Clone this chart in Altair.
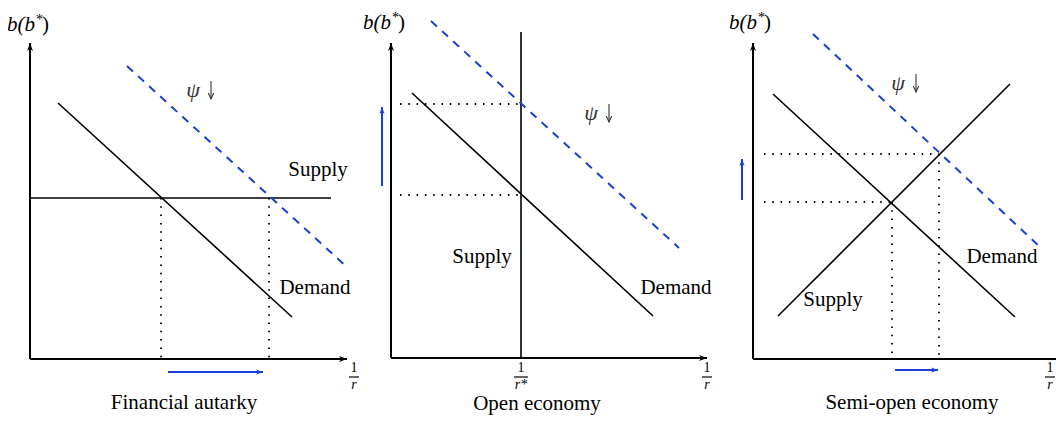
import math
import altair as alt
import pandas as pd

BLUE = "#1a3fd4"
SERIF = "Liberation Serif"

# ---- diagram geometry (diagram units, origin top-left) ----
axis_segments = [
    [30, 359, 30, 43], [30, 359, 347, 359],
    [391, 358, 391, 43], [391, 358, 707, 358],
    [753, 359, 753, 43], [753, 359, 1066, 359],
]
solid_segments = [
    [58, 103, 292, 317], [30, 198, 331, 198],
    [412, 93, 653, 316], [521, 32, 521, 358],
    [773, 94, 1015, 317], [778, 316, 1010, 84],
]
dashed_segments = [
    [127, 66, 348, 268],
    [431, 21, 679, 248],
    [813, 34, 1041, 248],
]
dotted_segments = [
    [161, 198, 161, 359], [269, 198, 269, 359],
    [400, 104, 521, 104], [400, 195, 521, 195],
    [764, 202, 892, 202], [764, 154, 939, 154],
    [892, 202, 892, 359], [939, 154, 939, 359],
]
shift_arrows = [
    [168, 372, 263, 372],
    [382, 186, 382, 107],
    [742, 200, 742, 159],
    [895, 370, 938, 370],
]

label_text = ["Supply", "Demand", "Financial autarky",
              "Supply", "Demand", "Open economy",
              "Supply", "Demand", "Semi-open economy"]
label_x = [318, 315, 184, 482, 676, 537, 833, 1002, 912]
label_y = [170, 288, 403, 257, 288, 404, 300, 257, 403]

yaxis_text = ["b(b", "b(b", "b(b"]
yaxis_x = [26, 382, 748]
yaxis_y = [25, 23, 23]

psi_x = [201, 599, 906]
psi_y = [90, 113, 83]

frac_num = ["1", "1", "1", "1"]
frac_den = ["r", "r*", "r", "r"]
frac_x = [354, 521, 707, 1050]
frac_half = [5, 7, 5, 5]


def seg_df(segs):
    return pd.DataFrame(segs, columns=["x", "y", "x2", "y2"])


X = alt.Scale(domain=[8, 1056], nice=False, zero=False)
Y = alt.Scale(domain=[8, 416], nice=False, zero=False, reverse=True)


def rules(df, **mark):
    return alt.Chart(df).mark_rule(**mark).encode(
        x=alt.X("x:Q", scale=X, axis=None),
        y=alt.Y("y:Q", scale=Y, axis=None),
        x2="x2:Q", y2="y2:Q",
    )


def heads(segs, length):
    rows = []
    for x1, y1, x2, y2 in segs:
        dx, dy = x2 - x1, y2 - y1
        n = math.hypot(dx, dy)
        ux, uy = dx / n, dy / n
        rows.append({"x": x2 - ux * length / 2, "y": y2 - uy * length / 2,
                     "angle": math.degrees(math.atan2(dx, -dy)) % 360})
    return pd.DataFrame(rows)


ARROW = "M0,-1 L0.75,1 L0,0.45 L-0.75,1 Z"
CHEVRON = "M-0.9,1 L0,-1 L0.9,1"


def head_layer(segs, length, color, shape=ARROW, filled=True, **mark):
    return alt.Chart(heads(segs, length)).mark_point(
        shape=shape, filled=filled, color=color, opacity=1,
        size=length * length, **mark
    ).encode(
        x=alt.X("x:Q", scale=X, axis=None),
        y=alt.Y("y:Q", scale=Y, axis=None),
        angle=alt.Angle("angle:Q", scale=None),
    )


def text_layer(texts, xs, ys, **mark):
    df = pd.DataFrame({"t": texts, "x": xs, "y": ys})
    opts = dict(font=SERIF, align="center", baseline="middle")
    opts.update(mark)
    return alt.Chart(df).mark_text(**opts).encode(
        x=alt.X("x:Q", scale=X, axis=None),
        y=alt.Y("y:Q", scale=Y, axis=None),
        text="t:N",
    )


bars = [[x - h, 377, x + h, 377] for x, h in zip(frac_x, frac_half)]
# the "down" arrow next to psi
down_arrows = [[x + 10, y - 9, x + 10, y + 9] for x, y in zip(psi_x, psi_y)]

layers = [
    rules(seg_df(dotted_segments), color="black", strokeWidth=1.8,
          strokeDash=[1.5, 6.8]),
    rules(seg_df(solid_segments), color="black", strokeWidth=1.6),
    rules(seg_df(dashed_segments), color=BLUE, strokeWidth=2,
          strokeDash=[8, 7]),
    rules(seg_df(axis_segments), color="black", strokeWidth=2),
    head_layer(axis_segments, 8, "black"),
    rules(seg_df(shift_arrows), color=BLUE, strokeWidth=2),
    head_layer(shift_arrows, 7, BLUE),
    rules(seg_df(bars), color="black", strokeWidth=1.2),
    rules(seg_df(down_arrows), color="#333333", strokeWidth=1.1),
    head_layer(down_arrows, 6, "#333333", shape=CHEVRON, filled=False,
               strokeWidth=1.1),
    text_layer(label_text, label_x, label_y, fontSize=21, color="black"),
    # y-axis label b(b*) built from pieces: italic b(b, superscript *, )
    text_layer(yaxis_text, yaxis_x, yaxis_y, fontSize=21, fontStyle="italic",
               color="black", align="right", dx=9),
    text_layer(["*"] * 3, yaxis_x, yaxis_y, fontSize=14, color="black",
               align="left", dx=10, dy=-5),
    text_layer([")"] * 3, yaxis_x, yaxis_y, fontSize=21, color="black",
               align="left", dx=16),
    text_layer(["ψ"] * 3, psi_x, psi_y, fontSize=22, fontStyle="italic",
               color="#333333", dx=-8),
    text_layer(frac_num, frac_x, [368] * 4, fontSize=14, color="black"),
    text_layer(frac_den, frac_x, [385] * 4, fontSize=14, fontStyle="italic",
               color="black"),
]

chart = alt.layer(*layers).properties(
    width=1048, height=408, autosize="none", padding=0
).configure_view(stroke=None)

chart.save("out.html", embed_options={"renderer": "svg", "actions": False})
